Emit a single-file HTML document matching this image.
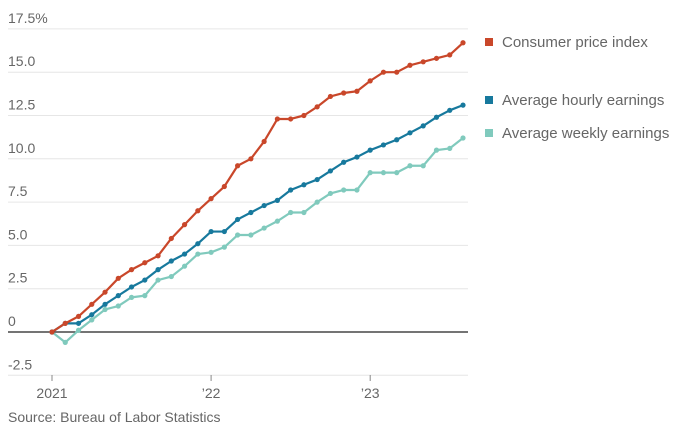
<!DOCTYPE html>
<html><head><meta charset="utf-8"><style>
body{margin:0;background:#fff;}
svg{display:block;font-family:"Liberation Sans",sans-serif;}
</style></head><body>
<svg id="chart" width="686" height="436" viewBox="0 0 686 436"></svg>
<script>
const months = 32;
const yTicks = [-2.5, 0, 2.5, 5, 7.5, 10, 12.5, 15, 17.5];
const yTickLabels = ["-2.5", "0", "2.5", "5.0", "7.5", "10.0", "12.5", "15.0", "17.5%"];
const xTickIndex = [0, 12, 24];
const xTickLabels = ["2021", "\u201922", "\u201923"];
const cpi = [0,0.5,0.9,1.6,2.3,3.1,3.6,4.0,4.4,5.4,6.2,7.0,7.7,8.4,9.6,10.0,11.0,12.3,12.3,12.5,13.0,13.6,13.8,13.9,14.5,15.0,15.0,15.4,15.6,15.8,16.0,16.7];
const hourly = [0,0.5,0.5,1.0,1.6,2.1,2.6,3.0,3.6,4.1,4.5,5.1,5.8,5.8,6.5,6.9,7.3,7.6,8.2,8.5,8.8,9.3,9.8,10.1,10.5,10.8,11.1,11.5,11.9,12.4,12.8,13.1];
const weekly = [0,-0.6,0.1,0.7,1.3,1.5,2.0,2.1,3.0,3.2,3.8,4.5,4.6,4.9,5.6,5.6,6.0,6.4,6.9,6.9,7.5,8.0,8.2,8.2,9.2,9.2,9.2,9.6,9.6,10.5,10.6,11.2];
const seriesNames = ["Consumer price index", "Average hourly earnings", "Average weekly earnings"];

const svg = document.getElementById('chart');
const NS = 'http://www.w3.org/2000/svg';
const x = i => 52 + i * (411 / 31);
const y = v => 332 - v * (43.3 / 2.5);
function mk(tag, attrs, parent) {
  const e = document.createElementNS(NS, tag);
  for (const k in attrs) e.setAttribute(k, attrs[k]);
  (parent || svg).appendChild(e);
  return e;
}
// grid + y labels
yTicks.forEach((t, i) => {
  const g = mk('line', {x1: 8, x2: 468, y1: y(t), y2: y(t), stroke: t === 0 ? '#222' : '#e6e6e6', 'stroke-width': t === 0 ? 1.3 : 1});
  
  
  const tx = mk('text', {x: 8, y: y(t) - 6, fill: '#666', 'font-size': 14});
  tx.textContent = yTickLabels[i];
  
  
});
// x ticks
xTickIndex.forEach((m, i) => {
  const tk = mk('line', {x1: x(m), x2: x(m), y1: 375, y2: 381, stroke: '#888'});
  
  
  const tx = mk('text', {x: x(m), y: 398, fill: '#666', 'font-size': 14, 'text-anchor': 'middle'});
  tx.textContent = xTickLabels[i];
  
  
});
const src = mk('text', {x: 8, y: 422, fill: '#666', 'font-size': 14});
src.textContent = 'Source: Bureau of Labor Statistics';


// series
const colors = ['#c9472a', '#17799d', '#80cabd'];
const data = [weekly, hourly, cpi];
const cols = [colors[2], colors[1], colors[0]];
const names = ['weekly-earnings', 'hourly-earnings', 'cpi'];
data.forEach((arr, s) => {
  const pts = arr.map((v, i) => x(i) + ',' + y(v)).join(' ');
  const pl = mk('polyline', {points: pts, fill: 'none', stroke: cols[s], 'stroke-width': 2.2, 'stroke-linejoin': 'round'});
  
  
  arr.forEach((v, i) => {
    const c = mk('circle', {cx: x(i), cy: y(v), r: 2.6, fill: cols[s]});
    
    
  });
});
// legend
const ly = [42, 100, 133];
seriesNames.forEach((n, i) => {
  const r = mk('rect', {x: 485, y: ly[i] - 4, width: 8, height: 8, fill: colors[i]});
  
  
  const t = mk('text', {x: 502, y: ly[i] + 5, fill: '#666', 'font-size': 15});
  t.textContent = n;
  
  
});
</script>
</body></html>
